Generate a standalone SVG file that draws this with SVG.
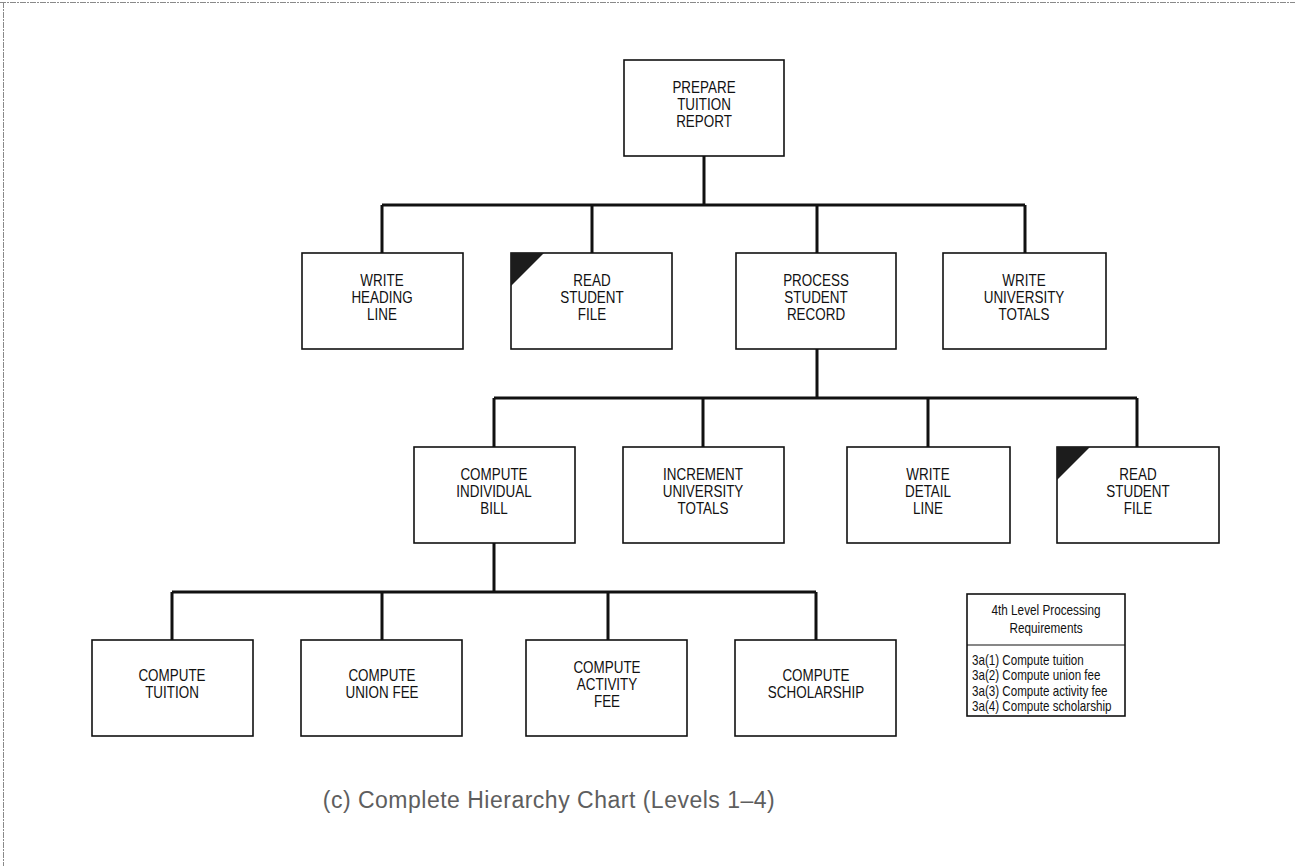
<svg xmlns="http://www.w3.org/2000/svg" width="1295" height="866" viewBox="0 0 1295 866">
<style>
.box{fill:#fff;stroke:#111;stroke-width:1.6}
.lbl{font-family:"Liberation Sans",Arial,sans-serif;font-size:16px;fill:#111;text-anchor:middle}
.leg{font-family:"Liberation Sans",Arial,sans-serif;font-size:14px;fill:#111}
.conn{fill:none;stroke:#111;stroke-width:3}
.corner{fill:#1c1c1c}
.frame{stroke:#8a8a8a;stroke-width:1;fill:none;stroke-dasharray:6 1 2 1}
.cap{font-family:"Liberation Sans",Arial,sans-serif;font-size:23px;letter-spacing:0.5px;fill:#5e5e5e;text-anchor:middle}
</style>
<rect width="1295" height="866" fill="#fff"/>
<path class="frame" d="M0 2.5H1295M3.5 2V866"/>
<g id="connectors">
<path class="conn" d="M704 156V205M382 205H1025M382 205V253M592 205V253M817 205V253M1025 205V253"/>
<path class="conn" d="M817 349V398M494 398H1137M494 398V447M703 398V447M928 398V447M1137 398V447"/>
<path class="conn" d="M494 543V592M172 592H816M172 592V640M382 592V640M608 592V640M816 592V640"/>
</g>
<g id="n-prepare"><rect class="box" x="624" y="60" width="160" height="96"/><g transform="translate(704 0) scale(0.84 1)"><text class="lbl" x="0" y="93">PREPARE</text><text class="lbl" x="0" y="110">TUITION</text><text class="lbl" x="0" y="127">REPORT</text></g></g>
<g id="n-heading"><rect class="box" x="302" y="253" width="161" height="96"/><g transform="translate(382 0) scale(0.84 1)"><text class="lbl" x="0" y="286">WRITE</text><text class="lbl" x="0" y="303">HEADING</text><text class="lbl" x="0" y="320">LINE</text></g></g>
<g id="n-read1"><rect class="box" x="511" y="253" width="161" height="96"/><path class="corner" d="M511 253H544L511 286Z"/><g transform="translate(592 0) scale(0.84 1)"><text class="lbl" x="0" y="286">READ</text><text class="lbl" x="0" y="303">STUDENT</text><text class="lbl" x="0" y="320">FILE</text></g></g>
<g id="n-process"><rect class="box" x="736" y="253" width="160" height="96"/><g transform="translate(816 0) scale(0.84 1)"><text class="lbl" x="0" y="286">PROCESS</text><text class="lbl" x="0" y="303">STUDENT</text><text class="lbl" x="0" y="320">RECORD</text></g></g>
<g id="n-univtotals"><rect class="box" x="943" y="253" width="163" height="96"/><g transform="translate(1024 0) scale(0.84 1)"><text class="lbl" x="0" y="286">WRITE</text><text class="lbl" x="0" y="303">UNIVERSITY</text><text class="lbl" x="0" y="320">TOTALS</text></g></g>
<g id="n-bill"><rect class="box" x="414" y="447" width="161" height="96"/><g transform="translate(494 0) scale(0.84 1)"><text class="lbl" x="0" y="480">COMPUTE</text><text class="lbl" x="0" y="497">INDIVIDUAL</text><text class="lbl" x="0" y="514">BILL</text></g></g>
<g id="n-increment"><rect class="box" x="623" y="447" width="161" height="96"/><g transform="translate(703 0) scale(0.84 1)"><text class="lbl" x="0" y="480">INCREMENT</text><text class="lbl" x="0" y="497">UNIVERSITY</text><text class="lbl" x="0" y="514">TOTALS</text></g></g>
<g id="n-detail"><rect class="box" x="847" y="447" width="163" height="96"/><g transform="translate(928 0) scale(0.84 1)"><text class="lbl" x="0" y="480">WRITE</text><text class="lbl" x="0" y="497">DETAIL</text><text class="lbl" x="0" y="514">LINE</text></g></g>
<g id="n-read2"><rect class="box" x="1057" y="447" width="162" height="96"/><path class="corner" d="M1057 447H1090L1057 480Z"/><g transform="translate(1138 0) scale(0.84 1)"><text class="lbl" x="0" y="480">READ</text><text class="lbl" x="0" y="497">STUDENT</text><text class="lbl" x="0" y="514">FILE</text></g></g>
<g id="n-tuition"><rect class="box" x="92" y="640" width="161" height="96"/><g transform="translate(172 0) scale(0.84 1)"><text class="lbl" x="0" y="681">COMPUTE</text><text class="lbl" x="0" y="698">TUITION</text></g></g>
<g id="n-union"><rect class="box" x="301" y="640" width="161" height="96"/><g transform="translate(382 0) scale(0.84 1)"><text class="lbl" x="0" y="681">COMPUTE</text><text class="lbl" x="0" y="698">UNION FEE</text></g></g>
<g id="n-activity"><rect class="box" x="526" y="640" width="161" height="96"/><g transform="translate(607 0) scale(0.84 1)"><text class="lbl" x="0" y="673">COMPUTE</text><text class="lbl" x="0" y="690">ACTIVITY</text><text class="lbl" x="0" y="707">FEE</text></g></g>
<g id="n-scholarship"><rect class="box" x="735" y="640" width="161" height="96"/><g transform="translate(816 0) scale(0.84 1)"><text class="lbl" x="0" y="681">COMPUTE</text><text class="lbl" x="0" y="698">SCHOLARSHIP</text></g></g>
<g id="legend">
<rect class="box" x="967" y="594" width="158" height="122" stroke-width="1.2"/>
<path d="M967 645H1125" stroke="#111" stroke-width="1.2"/>
<g transform="translate(1046 0) scale(0.84 1)">
<text class="leg" x="0" y="615" text-anchor="middle">4th Level Processing</text>
<text class="leg" x="0" y="633" text-anchor="middle">Requirements</text>
</g>
<g transform="translate(972 0) scale(0.83 1)">
<text class="leg" x="0" y="665">3a(1) Compute tuition</text>
<text class="leg" x="0" y="680.5">3a(2) Compute union fee</text>
<text class="leg" x="0" y="696">3a(3) Compute activity fee</text>
<text class="leg" x="0" y="711.5">3a(4) Compute scholarship</text>
</g>
</g>
<text class="cap" x="549" y="808">(c) Complete Hierarchy Chart (Levels 1–4)</text>
</svg>
